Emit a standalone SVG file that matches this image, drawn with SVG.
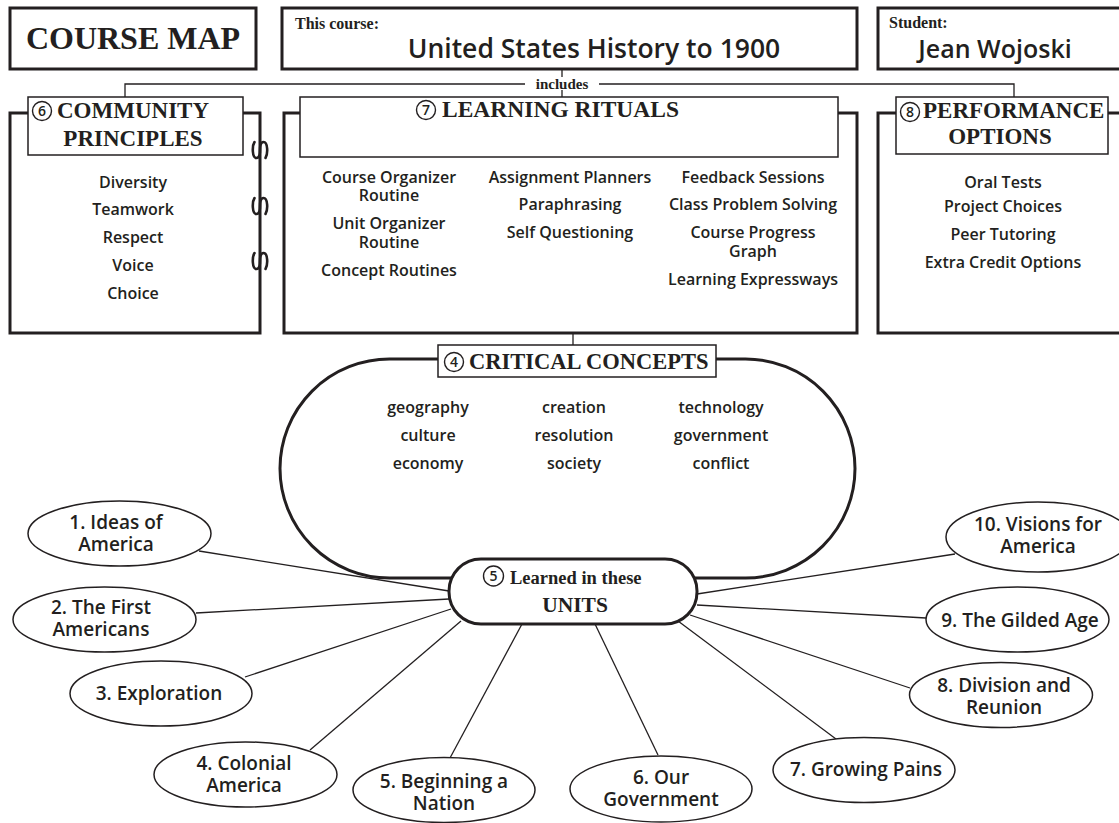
<svg xmlns="http://www.w3.org/2000/svg" width="1119" height="823" viewBox="0 0 1119 823">
<defs>
<style>
.thick{fill:#fff;stroke:#231f20;stroke-width:3}
.thin{fill:#fff;stroke:#231f20;stroke-width:1.5}
.conn{fill:none;stroke:#231f20;stroke-width:1.3}
.hook{fill:none;stroke:#231f20;stroke-width:2.6;stroke-linecap:round}
.ring{fill:#fff;stroke:#231f20;stroke-width:1.4}
.dig{font-family:"Open Sans","DejaVu Sans",sans-serif;font-weight:600;font-size:14px;fill:#231f20;text-anchor:middle}
.hd{font-family:"Liberation Serif","Times New Roman",serif;font-weight:bold;fill:#231f20}
.it{font-family:"Open Sans","DejaVu Sans",sans-serif;font-weight:600;fill:#231f20;text-anchor:middle;font-size:16px}
.un{font-family:"Open Sans","DejaVu Sans",sans-serif;font-weight:600;fill:#231f20;text-anchor:middle;font-size:19px}
.mid{text-anchor:middle}
</style>
<path id="hk" class="hook" d="M 5.5,8 C 8,4 8,-8 3.5,-8 C 0,-8 0,-2 0,0 C 0,2 0,8 -3.5,8 C -8,8 -8,-4 -5.5,-8"/>
</defs>
<rect width="1119" height="823" fill="#fff"/>

<g id="connectors">
<line class="conn" x1="562" y1="69" x2="562" y2="77"/>
<line class="conn" x1="562" y1="90" x2="562" y2="97"/>
<polyline class="conn" points="125,97 125,84 525,84"/>
<polyline class="conn" points="599,84 1014,84 1014,97"/>
<line class="conn" x1="573" y1="333" x2="573" y2="345"/>
<line class="conn" x1="199" y1="551" x2="449" y2="591"/>
<line class="conn" x1="196" y1="613" x2="449" y2="599"/>
<line class="conn" x1="245" y1="677" x2="451" y2="609"/>
<line class="conn" x1="310" y1="750" x2="461" y2="621"/>
<line class="conn" x1="450" y1="758" x2="522" y2="624"/>
<line class="conn" x1="595" y1="624" x2="658" y2="755"/>
<line class="conn" x1="678" y1="621" x2="836" y2="739"/>
<line class="conn" x1="690" y1="615" x2="910" y2="688"/>
<line class="conn" x1="697" y1="605" x2="926" y2="618"/>
<line class="conn" x1="697" y1="594" x2="955" y2="554"/>
</g>

<g id="course-map">
<rect class="thick" x="10" y="8" width="246" height="61"/>
<text class="hd mid" x="133" y="49" font-size="32">COURSE MAP</text>
</g>

<g id="this-course">
<rect class="thick" x="282" y="8" width="575" height="61"/>
<text class="hd" x="295" y="29" font-size="16">This course:</text>
<text class="un" x="594" y="58" style="font-size:26.5px">United States History to 1900</text>
</g>

<g id="student">
<rect class="thick" x="878" y="8" width="250" height="61"/>
<text class="hd" x="889" y="28" font-size="16">Student:</text>
<text class="un" x="995" y="58" style="font-size:25px">Jean Wojoski</text>
</g>

<g id="includes-label">
<text class="hd mid" x="562" y="89" font-size="15">includes</text>
</g>

<g id="community-principles">
<rect class="thick" x="10" y="113" width="250" height="220"/>
<rect class="thin" x="28" y="97" width="215" height="58"/>
<circle class="ring" cx="42" cy="111" r="9.5"/>
<text class="dig" x="42" y="116">6</text>
<text class="hd" x="57" y="118" font-size="23">COMMUNITY</text>
<text class="hd mid" x="133" y="146" font-size="23">PRINCIPLES</text>
<text class="it" x="133" y="187.5">Diversity</text>
<text class="it" x="133" y="214.5">Teamwork</text>
<text class="it" x="133" y="242.5">Respect</text>
<text class="it" x="133" y="270.5">Voice</text>
<text class="it" x="133" y="298.5">Choice</text>
</g>

<g id="hooks">
<use href="#hk" x="260" y="150"/>
<use href="#hk" x="260" y="206"/>
<use href="#hk" x="260" y="261"/>
</g>

<g id="learning-rituals">
<rect class="thick" x="284" y="113" width="573" height="220"/>
<rect class="thin" x="300" y="97" width="538" height="60"/>
<circle class="ring" cx="426" cy="110" r="9.5"/>
<text class="dig" x="426" y="115">7</text>
<text class="hd" x="442" y="117" font-size="23.5">LEARNING RITUALS</text>
<text class="it" x="389" y="182.5">Course Organizer</text>
<text class="it" x="389" y="200.5">Routine</text>
<text class="it" x="389" y="228.5">Unit Organizer</text>
<text class="it" x="389" y="247.5">Routine</text>
<text class="it" x="389" y="275.5">Concept Routines</text>
<text class="it" x="570" y="182.5">Assignment Planners</text>
<text class="it" x="570" y="209.5">Paraphrasing</text>
<text class="it" x="570" y="237.5">Self Questioning</text>
<text class="it" x="753" y="182.5">Feedback Sessions</text>
<text class="it" x="753" y="209.5">Class Problem Solving</text>
<text class="it" x="753" y="237.5">Course Progress</text>
<text class="it" x="753" y="256.5">Graph</text>
<text class="it" x="753" y="284.5">Learning Expressways</text>
</g>

<g id="performance-options">
<rect class="thick" x="878" y="113" width="250" height="220"/>
<rect class="thin" x="896" y="97" width="212" height="57"/>
<circle class="ring" cx="910" cy="112" r="9.5"/>
<text class="dig" x="910" y="117">8</text>
<text class="hd" x="923" y="118" font-size="23">PERFORMANCE</text>
<text class="hd mid" x="1000" y="144" font-size="23">OPTIONS</text>
<text class="it" x="1003" y="187.5">Oral Tests</text>
<text class="it" x="1003" y="211.5">Project Choices</text>
<text class="it" x="1003" y="239.5">Peer Tutoring</text>
<text class="it" x="1003" y="267.5">Extra Credit Options</text>
</g>

<g id="critical-concepts">
<rect class="thick" x="280" y="359" width="575" height="219" rx="109.5" ry="109.5"/>
<rect class="thin" x="438" y="345" width="278" height="32"/>
<circle class="ring" cx="454" cy="362" r="9.5"/>
<text class="dig" x="454" y="367">4</text>
<text class="hd" x="469" y="369" font-size="22.5">CRITICAL CONCEPTS</text>
<text class="it" x="428" y="412.5">geography</text>
<text class="it" x="428" y="440.5">culture</text>
<text class="it" x="428" y="468.5">economy</text>
<text class="it" x="574" y="412.5">creation</text>
<text class="it" x="574" y="440.5">resolution</text>
<text class="it" x="574" y="468.5">society</text>
<text class="it" x="721" y="412.5">technology</text>
<text class="it" x="721" y="440.5">government</text>
<text class="it" x="721" y="468.5">conflict</text>
</g>

<g id="units">
<rect class="thick" x="449" y="559" width="248" height="65" rx="32" ry="32"/>
<circle class="ring" cx="493.5" cy="576" r="10"/>
<text class="dig" x="493.5" y="581">5</text>
<text class="hd" x="510" y="584" font-size="18.5">Learned in these</text>
<text class="hd mid" x="575" y="612" font-size="21.5">UNITS</text>
</g>

<g id="unit-1"><ellipse class="thin" cx="119.5" cy="533.5" rx="91.5" ry="32.5"/>
<text class="un" x="116" y="529">1. Ideas of</text><text class="un" x="116" y="551">America</text></g>
<g id="unit-2"><ellipse class="thin" cx="104.5" cy="619.5" rx="91.5" ry="32.5"/>
<text class="un" x="101" y="614">2. The First</text><text class="un" x="101" y="636">Americans</text></g>
<g id="unit-3"><ellipse class="thin" cx="161" cy="693.5" rx="91" ry="32.5"/>
<text class="un" x="159" y="699.5">3. Exploration</text></g>
<g id="unit-4"><ellipse class="thin" cx="245.5" cy="774.5" rx="91.5" ry="32.5"/>
<text class="un" x="244" y="770">4. Colonial</text><text class="un" x="244" y="792">America</text></g>
<g id="unit-5"><ellipse class="thin" cx="444" cy="790" rx="91" ry="32.5"/>
<text class="un" x="444" y="788">5. Beginning a</text><text class="un" x="444" y="810">Nation</text></g>
<g id="unit-6"><ellipse class="thin" cx="661" cy="789" rx="91" ry="33"/>
<text class="un" x="661" y="784">6. Our</text><text class="un" x="661" y="806">Government</text></g>
<g id="unit-7"><ellipse class="thin" cx="864" cy="770" rx="91" ry="32.5"/>
<text class="un" x="866" y="775.5">7. Growing Pains</text></g>
<g id="unit-8"><ellipse class="thin" cx="1001" cy="695" rx="91.5" ry="32.5"/>
<text class="un" x="1004" y="692">8. Division and</text><text class="un" x="1004" y="714">Reunion</text></g>
<g id="unit-9"><ellipse class="thin" cx="1017.5" cy="619.5" rx="91.5" ry="32.5"/>
<text class="un" x="1020" y="626.5">9. The Gilded Age</text></g>
<g id="unit-10"><ellipse class="thin" cx="1038" cy="537" rx="92" ry="35"/>
<text class="un" x="1038" y="531">10. Visions for</text><text class="un" x="1038" y="553">America</text></g>
</svg>
